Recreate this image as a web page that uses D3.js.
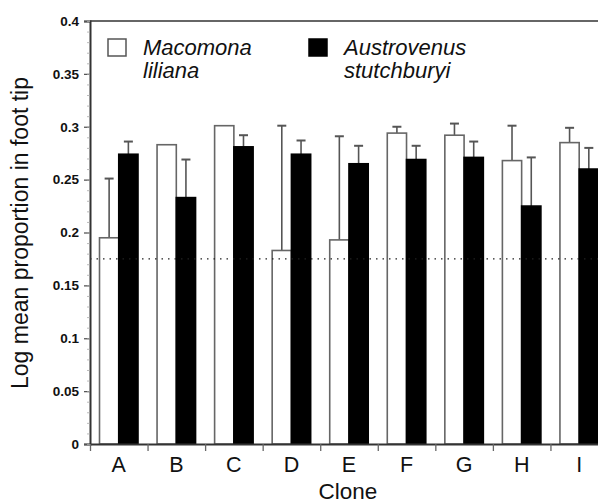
<!DOCTYPE html>
<html><head><meta charset="utf-8">
<script src="https://cdn.jsdelivr.net/npm/d3@7"></script>
<style>body{margin:0;background:#fff}svg{display:block}text{font-family:"Liberation Sans",Arial,Helvetica,sans-serif}</style>
</head><body>
<svg id="c" width="598" height="504"></svg>
<script>
const clones = ["A","B","C","D","E","F","G","H","I"];
const series = ["Macomona liliana","Austrovenus stutchburyi"];
const macomona =    [0.195,0.283,0.301,0.183,0.193,0.294,0.292,0.268,0.285];
const macomonaErr = [0.251,0.283,0.301,0.301,0.291,0.300,0.303,0.301,0.299];
const austro =      [0.274,0.233,0.281,0.274,0.265,0.269,0.271,0.225,0.260];
const austroErr =   [0.286,0.269,0.292,0.287,0.282,0.282,0.286,0.271,0.280];
const yTicks = [0,0.05,0.1,0.15,0.2,0.25,0.3,0.35,0.4];
const yTickLabels = ["0","0.05","0.1","0.15","0.2","0.25","0.3","0.35","0.4"];
const refLine = 0.175;

const svg = d3.select("#c");
const L = 90, R = 608, T = 21, B = 444;
const x = d3.scaleBand().domain(clones).range([L, R]).padding(0);
const xs = d3.scaleBand().domain(series).range([9.5, 48]).padding(0);
const y = d3.scaleLinear().domain([0, 0.4]).range([B, T]);

// top border
svg.append("line").attr("x1", L).attr("x2", R).attr("y1", T).attr("y2", T)
  .attr("stroke", "#666").attr("stroke-width", 1.8);

const data = clones.map((c, i) => [
  {c, s: series[0], v: macomona[i], e: macomonaErr[i]},
  {c, s: series[1], v: austro[i], e: austroErr[i]}
]).flat();

// error bars
const eg = svg.append("g").attr("stroke", "#555").attr("stroke-width", 1.6);
data.forEach(d => {
  const cx = x(d.c) + xs(d.s) + xs.bandwidth() / 2;
  if (d.e > d.v) {
    eg.append("line").attr("x1", cx).attr("x2", cx).attr("y1", y(d.v)).attr("y2", y(d.e));
    eg.append("line").attr("x1", cx - 4.5).attr("x2", cx + 4.5).attr("y1", y(d.e)).attr("y2", y(d.e)).attr("stroke-width", 2);
  }
});

// bars
svg.append("g").selectAll("rect").data(data).join("rect")
  .attr("x", d => x(d.c) + xs(d.s))
  .attr("width", xs.bandwidth())
  .attr("y", d => y(d.v))
  .attr("height", d => y(0) - y(d.v))
  .attr("fill", d => d.s === series[0] ? "#fff" : "#000")
  .attr("stroke", d => d.s === series[0] ? "#666" : "#000")
  .attr("stroke-width", 1.6);

// reference dotted line
svg.append("line").attr("x1", L).attr("x2", R).attr("y1", y(refLine)).attr("y2", y(refLine))
  .attr("stroke", "#222").attr("stroke-width", 1.3).attr("stroke-dasharray", "1.5,5");

// y axis
const yAxis = d3.axisLeft(y).tickValues(yTicks).tickFormat((d, i) => yTickLabels[i]).tickSize(6).tickPadding(5);
const ya = svg.append("g").attr("transform", `translate(${L},0)`).call(yAxis);
ya.select(".domain").attr("stroke", "#333").attr("stroke-width", 2);
ya.selectAll(".tick line").attr("stroke", "#555").attr("stroke-width", 1.3);
ya.selectAll("text").attr("font-size", 13.5).attr("font-weight", "bold").attr("fill", "#111");
const yMinor = d3.axisLeft(y).tickValues(d3.range(0, 0.401, 0.01)).tickFormat("").tickSize(3);
const ym = svg.append("g").attr("transform", `translate(${L},0)`).call(yMinor);
ym.select(".domain").remove();
ym.selectAll(".tick line").attr("stroke", "#aaa").attr("stroke-width", 0.8);

// x axis
const xa = svg.append("g").attr("transform", `translate(0,${B})`)
  .call(d3.axisBottom(x).tickSize(0).tickPadding(13));
xa.select(".domain").attr("stroke", "#333").attr("stroke-width", 2);
xa.selectAll("text").attr("font-size", 21.5).attr("fill", "#111");
const xb = svg.append("g").attr("transform", `translate(0,${B})`)
  .call(d3.axisBottom(d3.scalePoint().domain(d3.range(clones.length + 1)).range([L, R])).tickSize(7).tickFormat(""));
xb.select(".domain").remove();
xb.selectAll(".tick line").attr("stroke", "#666").attr("stroke-width", 1.3);

// axis titles
svg.append("text").attr("x", 348).attr("y", 499).attr("text-anchor", "middle")
  .attr("font-size", 22.5).attr("fill", "#111").text("Clone");
svg.append("text").attr("transform", "translate(28,233) rotate(-90)").attr("text-anchor", "middle")
  .attr("font-size", 23).attr("fill", "#111").text("Log mean proportion in foot tip");

// legend
const legend = [
  {x: 108, fill: "#fff", stroke: "#555", lines: ["Macomona", "liliana"]},
  {x: 309, fill: "#000", stroke: "#000", lines: ["Austrovenus", "stutchburyi"]}
];
legend.forEach(l => {
  svg.append("rect").attr("x", l.x).attr("y", 39).attr("width", 18).attr("height", 17)
    .attr("fill", l.fill).attr("stroke", l.stroke).attr("stroke-width", 1.5);
  l.lines.forEach((t, i) => {
    svg.append("text").attr("x", l.x + 35).attr("y", 55 + i * 23)
      .attr("font-size", 22).attr("font-style", "italic").attr("fill", "#111").text(t);
  });
});
</script>
</body></html>
